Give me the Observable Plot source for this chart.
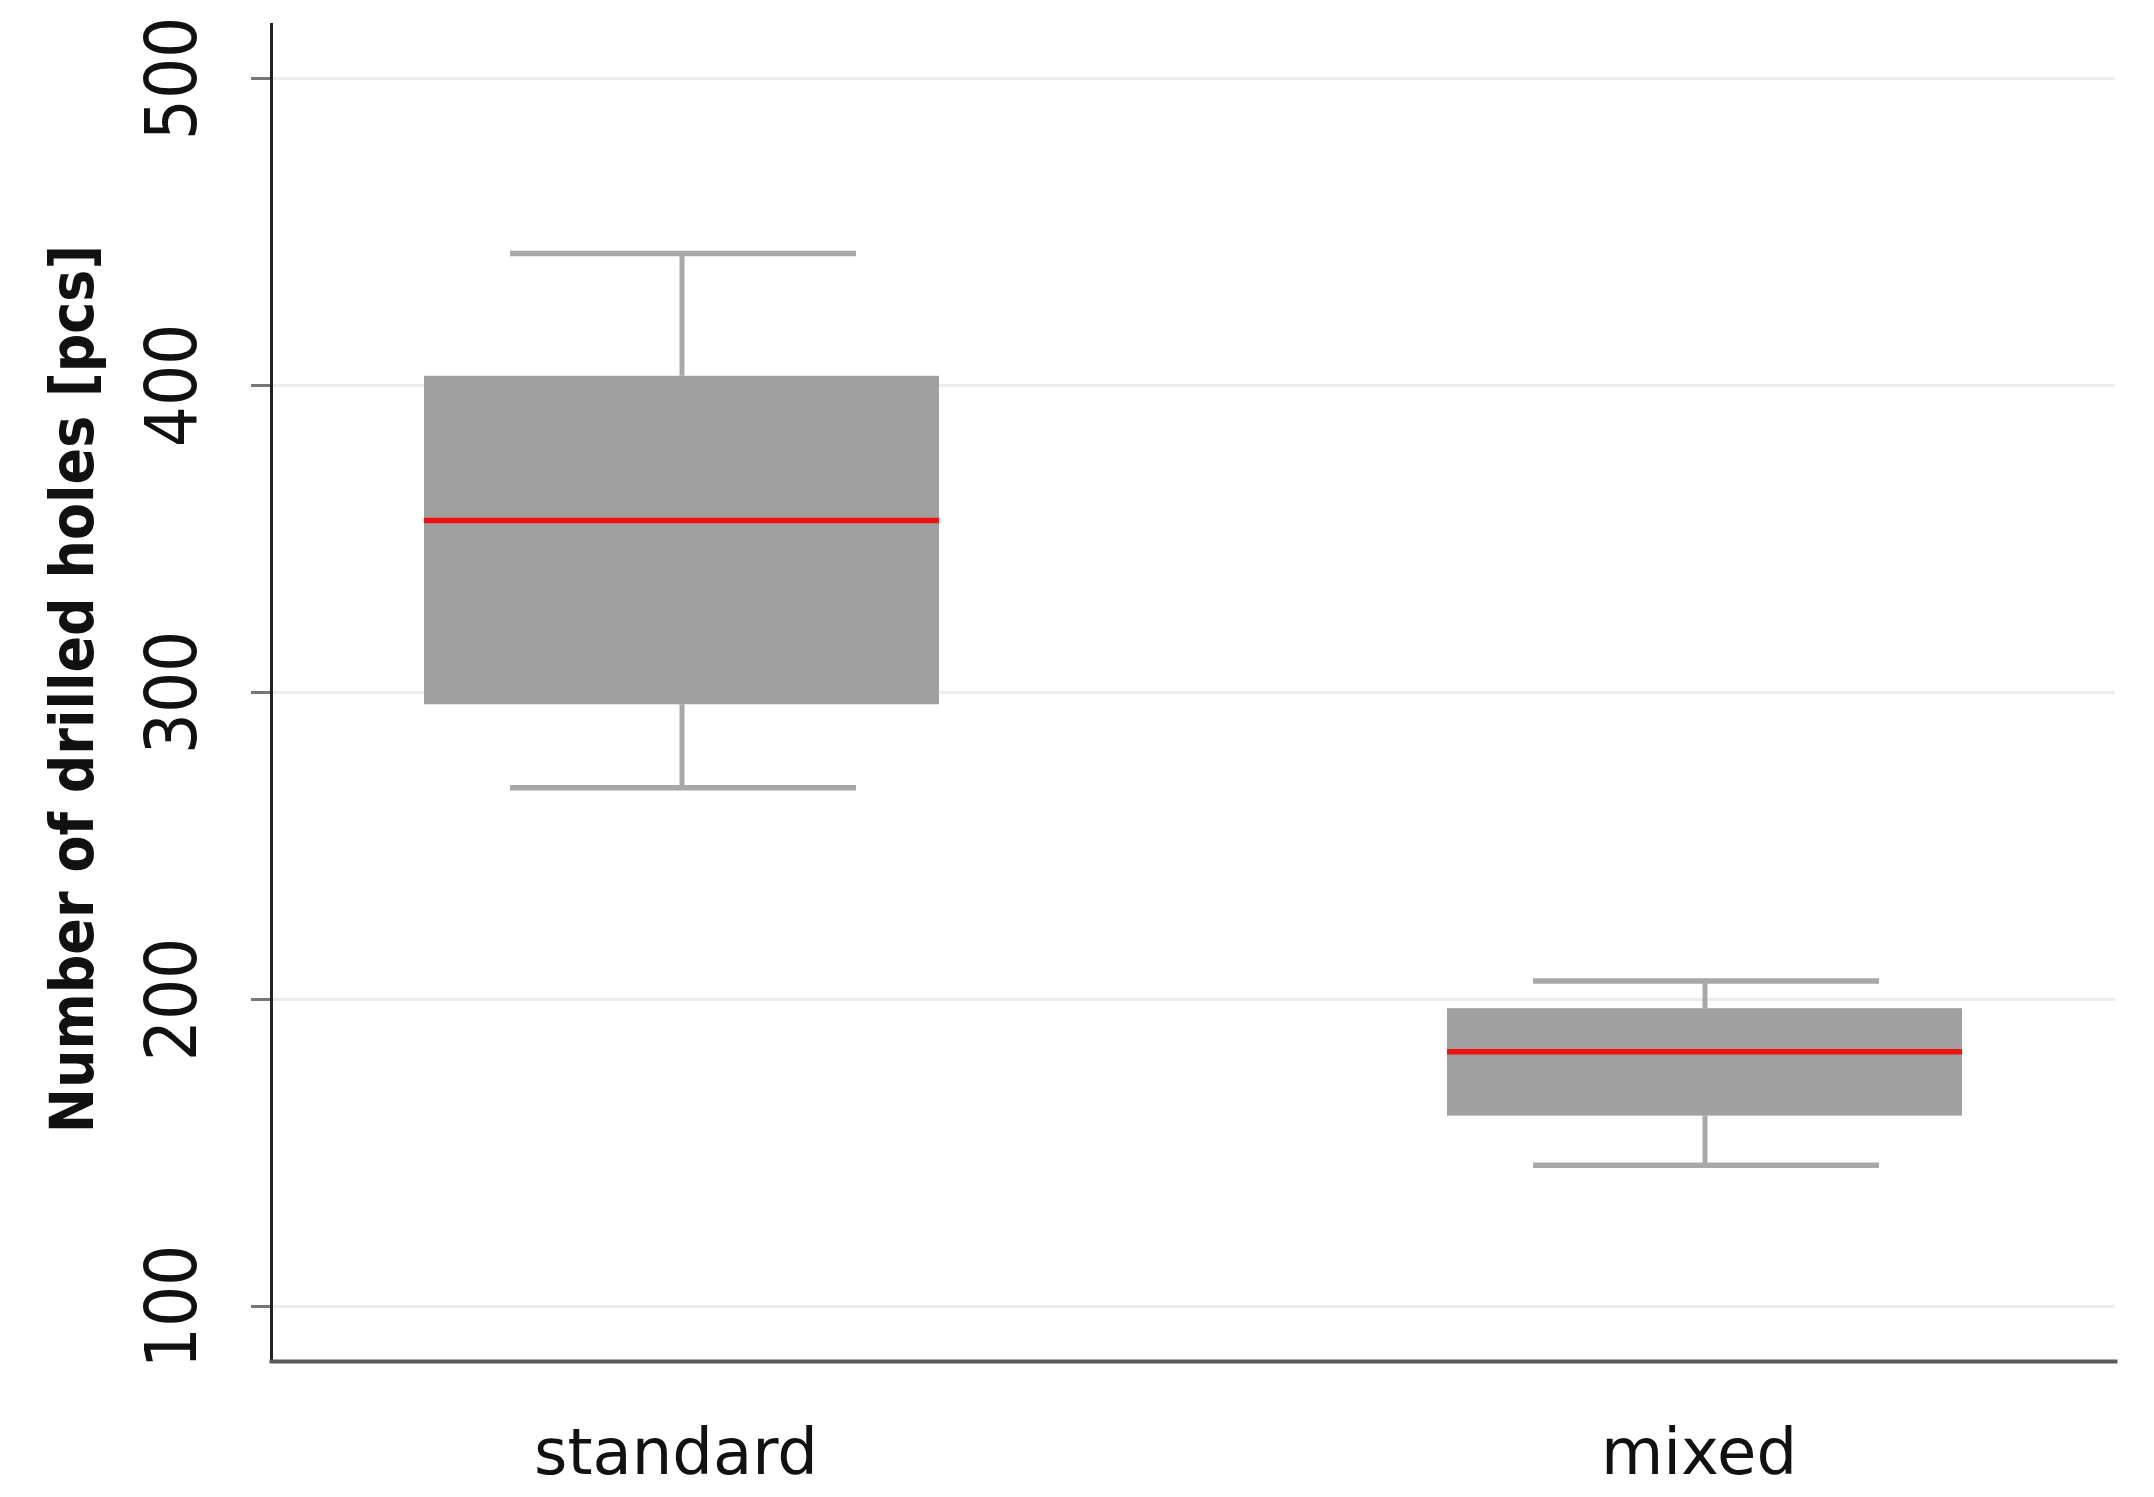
<!DOCTYPE html>
<html>
<head>
<meta charset="utf-8">
<script src="https://cdn.jsdelivr.net/npm/d3@7"></script>
<script src="https://cdn.jsdelivr.net/npm/@observablehq/plot@0.6"></script>
<style>
  html, body { margin: 0; padding: 0; background: #ffffff; }
  #chart svg { display: block; }
</style>
</head>
<body>
<div id="chart"></div>
<script>
const categories = ["standard", "mixed"];
const mins = [269, 146];
const q1s = [296, 162];
const medians = [356, 183];
const q3s = [403, 197];
const maxs = [443, 206];
const yTicks = [100, 200, 300, 400, 500];
const yLabel = "Number of drilled holes [pcs]";

const rows = categories.map((c, i) => ({
  group: c, min: mins[i], q1: q1s[i], median: medians[i], q3: q3s[i], max: maxs[i]
}));

const boxFill = "#a0a0a0";
const whisker = "#a8a8a8";

const chart = Plot.plot({
  width: 2154,
  height: 1497,
  marginLeft: 271,
  marginRight: 39,
  marginTop: 24,
  marginBottom: 136,
  style: { background: "#ffffff" },
  x: { domain: categories, type: "band", paddingInner: 0.4966, paddingOuter: 0.149, align: 0.5, axis: null },
  y: { domain: [100, 500], range: [1306, 78], axis: null },
  marks: [
    Plot.gridY(yTicks, { stroke: "#ececec", strokeOpacity: 1, strokeWidth: 3 }),
    Plot.axisY(yTicks, { tickSize: 20, tickFormat: () => "", stroke: "#777777", strokeWidth: 3 }),
    Plot.text(yTicks, {
      y: d => d, text: d => String(d), frameAnchor: "left", dx: -76,
      rotate: -90, textAnchor: "middle", lineAnchor: "bottom",
      fontSize: 72, fontFamily: "DejaVu Sans Condensed", fill: "#111111"
    }),
    Plot.text([yLabel], {
      text: d => d, frameAnchor: "left", dx: -179, dy: -4,
      rotate: -90, textAnchor: "middle", lineAnchor: "bottom",
      fontSize: 60, fontWeight: "bold", fontFamily: "DejaVu Sans Condensed", fill: "#111111"
    }),
    Plot.text(categories, {
      x: d => d, text: d => d, frameAnchor: "bottom", dy: 112, dx: -6,
      lineAnchor: "bottom", textAnchor: "middle",
      fontSize: 64, fontFamily: "DejaVu Sans", fill: "#111111"
    }),
    Plot.ruleX(rows, { x: "group", y1: "min", y2: "q1", stroke: whisker, strokeWidth: 5 }),
    Plot.ruleX(rows, { x: "group", y1: "q3", y2: "max", stroke: whisker, strokeWidth: 5 }),
    Plot.tickY(rows, { x: "group", y: "min", insetLeft: 86, insetRight: 83, stroke: whisker, strokeWidth: 5.5 }),
    Plot.tickY(rows, { x: "group", y: "max", insetLeft: 86, insetRight: 83, stroke: whisker, strokeWidth: 5.5 }),
    Plot.barY(rows, { x: "group", y1: "q1", y2: "q3", fill: boxFill }),
    Plot.tickY(rows, { x: "group", y: "median", stroke: "#f01212", strokeWidth: 5.5 }),
    Plot.frame({ anchor: "left", stroke: "#222222", strokeWidth: 3 }),
    Plot.frame({ anchor: "bottom", stroke: "#5a5a5a", strokeWidth: 4 })
  ]
});
document.getElementById("chart").appendChild(chart);
</script>
</body>
</html>
